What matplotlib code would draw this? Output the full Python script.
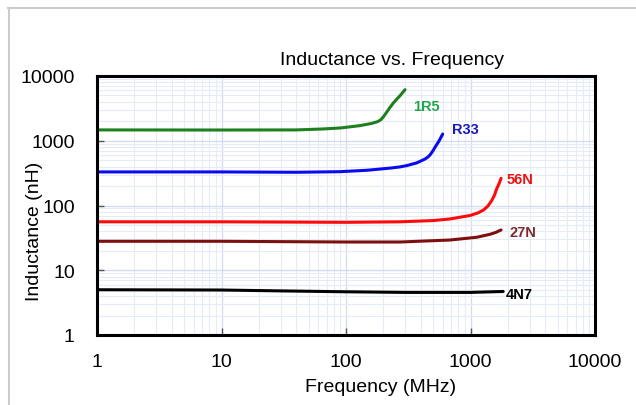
import matplotlib
matplotlib.use("Agg")
import matplotlib.pyplot as plt
import matplotlib.ticker as ticker
from matplotlib.lines import Line2D

plt.rcParams['font.family'] = ['Liberation Sans', 'DejaVu Sans']

# inductance (nH) vs frequency (MHz)
freq_1r5 = [1, 10, 40, 65, 90, 129, 160, 178, 190, 200, 212, 225, 240, 256, 272, 285, 298]
ind_1r5 = [1470, 1465, 1470, 1520, 1575, 1710, 1850, 1960, 2100, 2350, 2750, 3250, 3830, 4400, 4970, 5550, 6150]

freq_r33 = [1, 10, 40, 90, 147, 226, 271, 307, 370, 431, 455, 473, 497, 519, 560, 598]
ind_r33 = [330, 330, 326, 333, 350, 378, 394, 413, 455, 522, 560, 603, 690, 793, 1000, 1270]

freq_56n = [1, 10, 100, 272, 500, 684, 990, 1150, 1270, 1380, 1480, 1560, 1620, 1700, 1760]
ind_56n = [56, 56, 55, 56, 58.5, 62, 70, 77, 85, 98, 119, 145, 180, 220, 263]

freq_27n = [1, 10, 100, 272, 684, 1120, 1435, 1600, 1760]
ind_27n = [28, 28, 27.3, 27.3, 29.3, 32.3, 35.9, 38.5, 41.9]

freq_4n7 = [1, 10, 30, 100, 300, 1000, 1830]
ind_4n7 = [5.0, 4.95, 4.8, 4.65, 4.55, 4.55, 4.7]

series = [
    (freq_1r5, ind_1r5, "#1d7f1d"),
    (freq_r33, ind_r33, "#0a0af0"),
    (freq_56n, ind_56n, "#ff0a0a"),
    (freq_27n, ind_27n, "#7d0f0f"),
    (freq_4n7, ind_4n7, "#000000"),
]

fig = plt.figure(figsize=(6.36, 4.06), dpi=100)
ax = fig.add_axes([97 / 636, 1 - 336 / 406, 498 / 636, 259 / 406])

for f, L, c in series:
    ax.plot(f, L, color=c, linewidth=2.2, solid_capstyle='round', solid_joinstyle='round')

ax.set_xscale('log')
ax.set_yscale('log')
ax.set_xlim(1, 10000)
ax.set_ylim(1, 10000)
ax.xaxis.set_major_formatter(ticker.FuncFormatter(lambda v, p: "%d" % round(v)))
ax.yaxis.set_major_formatter(ticker.FuncFormatter(lambda v, p: "%d" % round(v)))
ax.xaxis.set_minor_locator(ticker.LogLocator(base=10, subs=range(2, 10)))
ax.yaxis.set_minor_locator(ticker.LogLocator(base=10, subs=range(2, 10)))
ax.xaxis.set_minor_formatter(ticker.NullFormatter())
ax.yaxis.set_minor_formatter(ticker.NullFormatter())

ax.grid(True, which='major', color='#d3ddef', linewidth=1)
ax.grid(True, which='minor', color='#e6ecf7', linewidth=0.8)
ax.set_axisbelow(True)

ax.tick_params(which='major', direction='in', length=5, width=1, color='#555555',
               labelsize=14, pad=13)
ax.tick_params(axis='y', which='major', pad=16)
ax.tick_params(which='minor', length=0)
for s in ax.spines.values():
    s.set_linewidth(2.2)
    s.set_color('black')

ax.text(0.592, 1.062, "Inductance vs. Frequency", fontsize=14,
        ha='center', va='center', transform=ax.transAxes)
ax.set_xlabel("Frequency (MHz)", fontsize=14)
ax.set_ylabel("Inductance (nH)", fontsize=14)
ax.xaxis.set_label_coords(0.570, -0.20)
ax.xaxis.label.set_va('center')
ax.yaxis.set_label_coords(-0.1245, 0.405)
ax.yaxis.label.set_va('center')

ax.text(345, 3440, "1R5", color="#22a64a", fontsize=10.5, fontweight='bold', va='center')
ax.text(710, 1518, "R33", color="#1a1ab8", fontsize=10.5, fontweight='bold', va='center')
ax.text(1953, 256, "56N", color="#f01010", fontsize=10.5, fontweight='bold', va='center')
ax.text(2040, 38.5, "27N", color="#7b2d2d", fontsize=10.5, fontweight='bold', va='center')
ax.text(1928, 4.3, "4N7", color="#000000", fontsize=10.5, fontweight='bold', va='center')

# light grey frame around the chart area
fig.add_artist(Line2D([8.5 / 636, 8.5 / 636], [0, 1 - 9 / 406],
                      transform=fig.transFigure, color='#cccccc', linewidth=1.5))
fig.add_artist(Line2D([8 / 636, 1], [1 - 9 / 406, 1 - 9 / 406],
                      transform=fig.transFigure, color='#cccccc', linewidth=1.5))

fig.savefig("out.png", dpi=100)
